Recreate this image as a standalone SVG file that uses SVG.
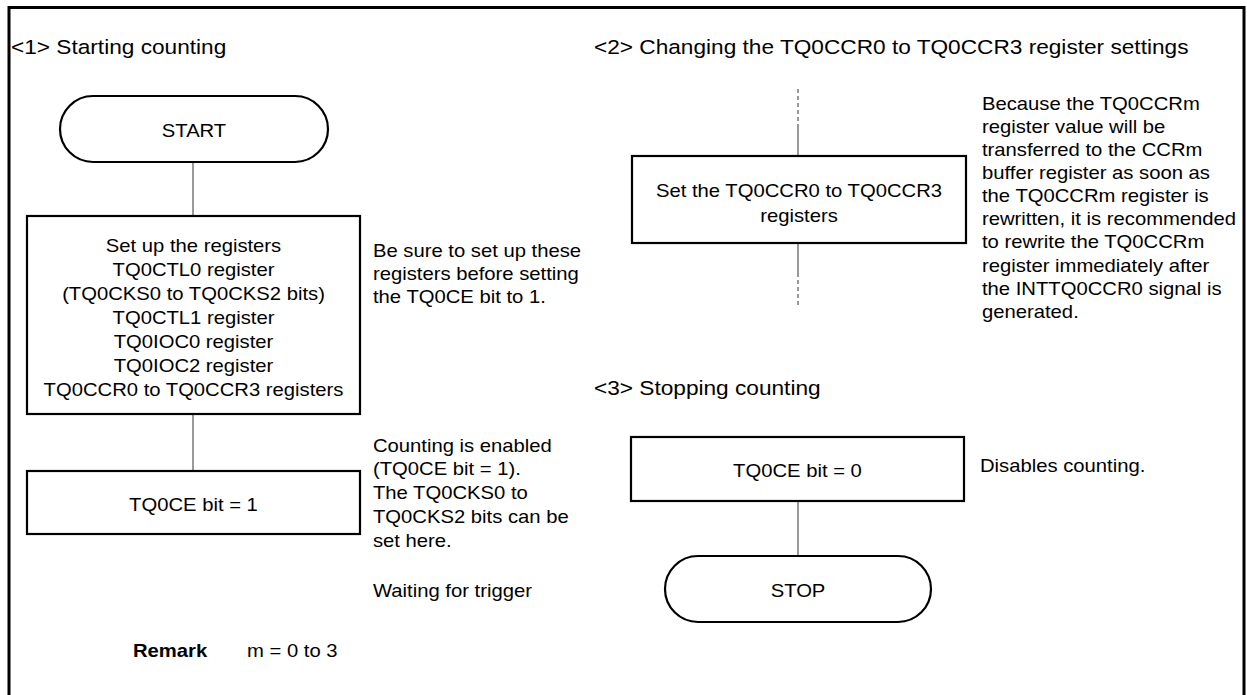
<svg xmlns="http://www.w3.org/2000/svg" width="1247" height="695" viewBox="0 0 1247 695">
<style>
text{font-family:"Liberation Sans",Arial,Helvetica,sans-serif;fill:#000;}
.t{font-size:18.5px;}
.h{font-size:20.5px;}
.c{text-anchor:middle;}
.b{font-weight:bold;}
.box{fill:#fff;stroke:#000;stroke-width:2.2;}
.ln{stroke:#555;stroke-width:1.2;fill:none;}
.dash{stroke:#555;stroke-width:1.2;fill:none;stroke-dasharray:4 3;}
</style>
<rect width="1247" height="695" fill="#fff"/>
<path d="M9,700 V7.5 H1244 V700" fill="none" stroke="#000" stroke-width="3"/>
<g id="titles">
<text class="h" transform="matrix(1.105 0 0 1 11 54)">&lt;1&gt; Starting counting</text>
<text class="h" transform="matrix(1.105 0 0 1 594 54)">&lt;2&gt; Changing the TQ0CCR0 to TQ0CCR3 register settings</text>
<text class="h" transform="matrix(1.105 0 0 1 594 395)">&lt;3&gt; Stopping counting</text>
</g>
<g id="connectors">
<line class="ln" x1="193" y1="162" x2="193" y2="216"/>
<line class="ln" x1="193" y1="414" x2="193" y2="471"/>
<line class="dash" x1="798" y1="89" x2="798" y2="127"/>
<line class="ln" x1="798" y1="127" x2="798" y2="156"/>
<line class="ln" x1="798" y1="243" x2="798" y2="273"/>
<line class="dash" x1="798" y1="273" x2="798" y2="307"/>
<line class="ln" x1="798" y1="501" x2="798" y2="556"/>
</g>
<g id="start">
<rect class="box" x="60" y="96" width="268" height="66" rx="33"/>
<text class="t c" transform="matrix(1.095 0 0 1 194 137)">START</text>
</g>
<g id="setup">
<rect class="box" x="27" y="216" width="333" height="198"/>
<text class="t c" transform="matrix(1.095 0 0 1 193.5 0)"><tspan x="0" y="252">Set up the registers</tspan><tspan x="0" y="276">TQ0CTL0 register</tspan><tspan x="0" y="300">(TQ0CKS0 to TQ0CKS2 bits)</tspan><tspan x="0" y="324">TQ0CTL1 register</tspan><tspan x="0" y="348">TQ0IOC0 register</tspan><tspan x="0" y="372.5">TQ0IOC2 register</tspan><tspan x="0" y="396.5">TQ0CCR0 to TQ0CCR3 registers</tspan></text>
</g>
<g id="note1">
<text class="t" transform="matrix(1.095 0 0 1 373 0)"><tspan x="0" y="257">Be sure to set up these</tspan><tspan x="0" y="280">registers before setting</tspan><tspan x="0" y="303">the TQ0CE bit to 1.</tspan></text>
</g>
<g id="enable">
<rect class="box" x="27" y="471" width="333" height="63"/>
<text class="t c" transform="matrix(1.095 0 0 1 193.5 511)">TQ0CE bit = 1</text>
</g>
<g id="note2">
<text class="t" transform="matrix(1.095 0 0 1 373 0)"><tspan x="0" y="452">Counting is enabled</tspan><tspan x="0" y="475.5">(TQ0CE bit = 1).</tspan><tspan x="0" y="499">The TQ0CKS0 to</tspan><tspan x="0" y="523">TQ0CKS2 bits can be</tspan><tspan x="0" y="547">set here.</tspan><tspan x="0" y="597">Waiting for trigger</tspan></text>
</g>
<g id="setccr">
<rect class="box" x="632" y="156" width="334" height="87"/>
<text class="t c" transform="matrix(1.095 0 0 1 799 0)"><tspan x="0" y="197">Set the TQ0CCR0 to TQ0CCR3</tspan><tspan x="0" y="222">registers</tspan></text>
</g>
<g id="note3">
<text class="t" transform="matrix(1.095 0 0 1 982 0)"><tspan x="0" y="110">Because the TQ0CCRm</tspan><tspan x="0" y="133">register value will be</tspan><tspan x="0" y="156">transferred to the CCRm</tspan><tspan x="0" y="179.5">buffer register as soon as</tspan><tspan x="0" y="202.5">the TQ0CCRm register is</tspan><tspan x="0" y="225.5">rewritten, it is recommended</tspan><tspan x="0" y="248.5">to rewrite the TQ0CCRm</tspan><tspan x="0" y="272">register immediately after</tspan><tspan x="0" y="295">the INTTQ0CCR0 signal is</tspan><tspan x="0" y="318">generated.</tspan></text>
</g>
<g id="disable">
<rect class="box" x="631" y="437" width="333" height="64"/>
<text class="t c" transform="matrix(1.095 0 0 1 797.5 477)">TQ0CE bit = 0</text>
</g>
<g id="note4">
<text class="t" transform="matrix(1.095 0 0 1 980 472)">Disables counting.</text>
</g>
<g id="stop">
<rect class="box" x="665" y="556" width="266" height="66" rx="33"/>
<text class="t c" transform="matrix(1.095 0 0 1 798 597)">STOP</text>
</g>
<g id="remark">
<text class="t b" transform="matrix(1.095 0 0 1 133 657)">Remark</text>
<text class="t" transform="matrix(1.095 0 0 1 247 657)">m = 0 to 3</text>
</g>
</svg>
